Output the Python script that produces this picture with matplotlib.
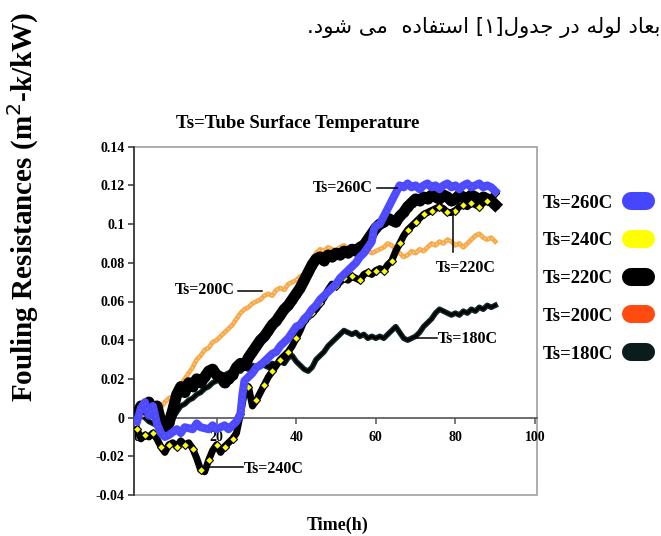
import matplotlib
matplotlib.use("Agg")
import matplotlib.pyplot as plt
from matplotlib.lines import Line2D
from matplotlib.patches import Rectangle

# ---------------- data ----------------
x_260 = [0, 1, 2, 3, 4, 5, 6, 7, 8, 10, 11, 12, 14, 15, 16, 18, 19, 20, 22, 23, 24, 25, 26, 26.5, 27, 28, 29, 30,
         31, 32, 33, 34, 35, 36, 37, 38, 39, 40, 41, 42, 43, 44, 45, 46, 47, 48, 49, 50, 51, 52, 53, 54, 55, 56,
         57, 58, 59, 59.5, 60, 61, 62, 63, 64, 65, 66, 67, 68, 69, 70, 71, 72, 73, 74, 75, 76, 77, 78, 79, 80,
         81, 82, 83, 84, 85, 86, 87, 88, 89, 90]
y_260 = [-0.002, 0.005, 0.008, 0.001, 0.006, -0.003, -0.008, -0.010, -0.009, -0.006, -0.008, -0.005, -0.006,
         -0.003, -0.005, -0.006, -0.004, -0.006, -0.004, -0.006, -0.004, -0.002, 0.002, 0.012, 0.019, 0.021,
         0.023, 0.026, 0.027, 0.029, 0.031, 0.033, 0.034, 0.037, 0.039, 0.041, 0.044, 0.047, 0.048, 0.051,
         0.053, 0.056, 0.058, 0.061, 0.063, 0.065, 0.067, 0.069, 0.072, 0.074, 0.076, 0.078, 0.080, 0.083,
         0.085, 0.088, 0.091, 0.097, 0.099, 0.100, 0.104, 0.108, 0.112, 0.116, 0.120, 0.119, 0.121, 0.119,
         0.120, 0.118, 0.120, 0.121, 0.119, 0.120, 0.118, 0.120, 0.121, 0.119, 0.120, 0.118, 0.120, 0.121,
         0.119, 0.120, 0.121, 0.119, 0.120, 0.119, 0.117]

x_1h = list(range(0, 91))
y_240 = [-0.006, -0.011, -0.009, -0.010, -0.008, -0.011, -0.015, -0.018, -0.014, -0.013, -0.015, -0.012, -0.014,
         -0.013, -0.016, -0.021, -0.027, -0.028, -0.022, -0.017, -0.014, -0.018, -0.015, -0.013, -0.011, -0.008,
         0.002, 0.013, 0.016, 0.006, 0.009, 0.013, 0.017, 0.021, 0.024, 0.027, 0.030, 0.032, 0.034, 0.037,
         0.041, 0.045, 0.050, 0.052, 0.054, 0.056, 0.059, 0.062, 0.066, 0.069, 0.068, 0.070, 0.072, 0.071,
         0.073, 0.072, 0.071, 0.074, 0.075, 0.074, 0.076, 0.077, 0.076, 0.079, 0.081, 0.086, 0.090, 0.094,
         0.097, 0.099, 0.101, 0.103, 0.105, 0.106, 0.107, 0.108, 0.109, 0.108, 0.106, 0.106, 0.107, 0.109,
         0.110, 0.109, 0.111, 0.110, 0.109, 0.111, 0.112, 0.113, 0.116]
y_220 = [0.002, 0.006, 0.004, 0.008, 0.003, 0.006, -0.002, -0.006, -0.003, 0.004, 0.012, 0.016, 0.013, 0.018,
         0.016, 0.020, 0.018, 0.021, 0.024, 0.025, 0.022, 0.021, 0.018, 0.020, 0.022, 0.026, 0.028, 0.027,
         0.031, 0.034, 0.037, 0.040, 0.042, 0.045, 0.048, 0.050, 0.053, 0.056, 0.058, 0.061, 0.064, 0.067,
         0.071, 0.075, 0.079, 0.082, 0.083, 0.081, 0.084, 0.083, 0.085, 0.084, 0.086, 0.085, 0.087, 0.086,
         0.088, 0.089, 0.092, 0.095, 0.098, 0.100, 0.101, 0.103, 0.102, 0.101, 0.104, 0.106, 0.109, 0.111,
         0.113, 0.112, 0.114, 0.113, 0.115, 0.114, 0.113, 0.115, 0.114, 0.112, 0.113, 0.115, 0.114, 0.113,
         0.115, 0.114, 0.112, 0.114, 0.113, 0.112, 0.110]
y_200 = [0.000, 0.001, 0.002, 0.001, 0.001, 0.003, 0.005, 0.008, 0.010, 0.011, 0.014, 0.017, 0.020, 0.023,
         0.026, 0.030, 0.032, 0.035, 0.036, 0.039, 0.040, 0.042, 0.044, 0.046, 0.048, 0.051, 0.054, 0.056,
         0.057, 0.059, 0.060, 0.061, 0.063, 0.064, 0.063, 0.066, 0.067, 0.066, 0.069, 0.070, 0.071, 0.073,
         0.074, 0.077, 0.081, 0.085, 0.087, 0.086, 0.088, 0.087, 0.086, 0.088, 0.089, 0.087, 0.088, 0.087,
         0.089, 0.088, 0.086, 0.085, 0.086, 0.087, 0.088, 0.090, 0.089, 0.087, 0.085, 0.083, 0.084, 0.086,
         0.085, 0.087, 0.086, 0.088, 0.090, 0.089, 0.091, 0.090, 0.092, 0.091, 0.089, 0.090, 0.088, 0.090,
         0.092, 0.094, 0.095, 0.093, 0.092, 0.093, 0.091]
y_180 = [0.003, 0.001, 0.000, -0.002, -0.003, -0.004, -0.005, -0.004, -0.002, 0.000, 0.003, 0.006, 0.007,
         0.009, 0.010, 0.012, 0.013, 0.015, 0.016, 0.018, 0.019, 0.021, 0.022, 0.023, 0.024, 0.025, 0.024,
         0.026, 0.025, 0.027, 0.026, 0.028, 0.027, 0.026, 0.028, 0.027, 0.029, 0.028, 0.031, 0.032, 0.029,
         0.027, 0.025, 0.024, 0.026, 0.030, 0.032, 0.034, 0.037, 0.039, 0.041, 0.043, 0.045, 0.044, 0.043,
         0.044, 0.042, 0.043, 0.041, 0.042, 0.041, 0.042, 0.041, 0.043, 0.045, 0.047, 0.044, 0.041, 0.040,
         0.041, 0.042, 0.044, 0.047, 0.049, 0.051, 0.054, 0.056, 0.055, 0.054, 0.053, 0.054, 0.053, 0.055,
         0.054, 0.056, 0.055, 0.057, 0.056, 0.058, 0.057, 0.058]

legend_labels = ["Ts=260C", "Ts=240C", "Ts=220C", "Ts=200C", "Ts=180C"]
legend_colors = ["#4646FF", "#FFFF00", "#000000", "#FF4A10", "#0A1C1C"]
x_ticks = [0, 20, 40, 60, 80, 100]
y_ticks = [-0.04, -0.02, 0, 0.02, 0.04, 0.06, 0.08, 0.1, 0.12, 0.14]
y_ticklabels = ["-0.04", "-0.02", "0", "0.02", "0.04", "0.06", "0.08", "0.1", "0.12", "0.14"]

title = "Ts=Tube Surface Temperature"
xlabel = "Time(h)"
ylabel = "Fouling Resistances (m$^2$-k/kW)"
# Persian sentence, given in visual (left-to-right) order with presentation forms
persian = (".\uFEA9\uFEEE\uFEB7 \uFEF0\uFEE3  \uFEE9\uFEA9\uFE8E\uFED4\uFE98\uFEB3\uFE8D [\u06F1]"
           "\uFEDD\uFEED\uFEAA\uFE9F \uFEAD\uFEA9 \uFEEA\uFEDF\uFEEE\uFEDF \uFEA9\uFE8E\uFECC\uFE91")

# ---------------- figure ----------------
serif = ["Liberation Serif", "DejaVu Serif"]
fig = plt.figure(figsize=(6.61, 5.36), dpi=100)
ax = fig.add_axes([134 / 661, 1 - 495 / 536, (537 - 134) / 661, (495 - 146.7) / 536])
ax.set_xlim(-0.75, 100.5)
ax.set_ylim(-0.04, 0.14)

# series
ax.plot(x_1h, y_180, color="#0E2828", lw=4.0, zorder=3)
ax.plot(x_1h, y_180, color="#000000", lw=1.8, zorder=3)
ax.plot(x_1h, y_200, color="#F7A94A", lw=3.4, zorder=3.1)
ax.plot(x_1h, y_200, color="#FFD79A", lw=1.0, zorder=3.1, ls=(0, (1, 2)))
ax.plot(x_1h, y_220, color="#000000", lw=8.0, zorder=3.2)
ax.plot(x_1h, y_220, color="#000000", lw=0, marker="o", ms=6, zorder=3.2)
ax.plot(x_1h, y_240, color="#000000", lw=5.0, zorder=3.3)
ax.plot(x_1h, y_240, lw=0, marker="D", ms=3.8, mfc="#FFFF00", mec="#000000", mew=0.8,
        markevery=2, zorder=3.35)
ax.plot(x_260, y_260, color="#4B4BFF", lw=5.8, zorder=3.5)
ax.plot(x_260, y_260, color="#8A50F0", lw=1.0, zorder=3.5, ls=(0, (1, 3)))

# frame and axes
for s in ["top", "right"]:
    ax.spines[s].set_visible(False)
ax.spines["bottom"].set_position(("data", 0))
ax.spines["bottom"].set_color("#555555")
ax.spines["bottom"].set_linewidth(1.2)
ax.spines["left"].set_color("#333333")
ax.spines["left"].set_linewidth(1.2)
ax.add_patch(Rectangle((0, 0), 1, 1, transform=ax.transAxes, fill=False,
                       ec="#A0A0A0", lw=1.2, zorder=1, clip_on=False))

ax.set_xticks(x_ticks)
ax.set_xticklabels([str(v) for v in x_ticks])
ax.set_yticks(y_ticks)
ax.set_yticklabels(y_ticklabels)
ax.tick_params(axis="x", direction="out", length=4, width=1.1, pad=6, color="#555555")
ax.tick_params(axis="y", direction="out", length=4, width=1.1, pad=3, color="#333333")
for lab in ax.get_xticklabels() + ax.get_yticklabels():
    lab.set_fontfamily(serif)
    lab.set_fontweight("bold")
    lab.set_fontsize(10)

# in-plot annotations
afont = dict(family=serif, fontweight="bold", fontsize=11.5, color="black")
ax.plot([60.3, 65.3], [0.1187, 0.1187], color="black", lw=1.1, zorder=4)
ax.text(59.2, 0.1187, "Ts=260C", ha="right", va="center", zorder=4, **afont)
ax.plot([25.3, 31.5], [0.0655, 0.0655], color="black", lw=1.1, zorder=4)
ax.text(24.6, 0.0660, "Ts=200C", ha="right", va="center", zorder=4, **afont)
ax.plot([79.3, 79.3], [0.1065, 0.0855], color="black", lw=1.1, zorder=4)
ax.text(82.6, 0.0772, "Ts=220C", ha="center", va="center", zorder=4, **afont)
ax.plot([70.0, 75.3], [0.0412, 0.0412], color="black", lw=1.1, zorder=4)
ax.text(75.6, 0.0405, "Ts=180C", ha="left", va="center", zorder=4, **afont)
ax.plot([16.5, 26.6], [-0.0255, -0.0255], color="black", lw=1.1, zorder=4)
ax.text(26.9, -0.0268, "Ts=240C", ha="left", va="center", zorder=4, **afont)

# title / labels
fig.text(298 / 661, 1 - 123 / 536, title, ha="center", va="center",
         family=serif, fontweight="bold", fontsize=13.5)
fig.text(338 / 661, 1 - 525 / 536, xlabel, ha="center", va="center",
         family=serif, fontweight="bold", fontsize=13)
fig.text(23 / 661, 1 - 207 / 536, ylabel, ha="center", va="center", rotation=90,
         family=serif, fontweight="bold", fontsize=21)
fig.text(0.999, 1 - 28 / 536, persian, ha="right", va="center",
         family=["DejaVu Sans"], fontsize=15.3)

# legend
handles = [Line2D([], [], color=c, lw=13, solid_capstyle="round") for c in legend_colors]
leg = fig.legend(handles, legend_labels, loc="upper left",
                 bbox_to_anchor=(535 / 661, 1 - 187 / 536), frameon=False,
                 markerfirst=False, handlelength=0.8, handletextpad=0.95,
                 labelspacing=1.1, borderaxespad=0,
                 prop=dict(family=serif, weight="bold", size=13.5))

fig.savefig("out.png", dpi=100)
